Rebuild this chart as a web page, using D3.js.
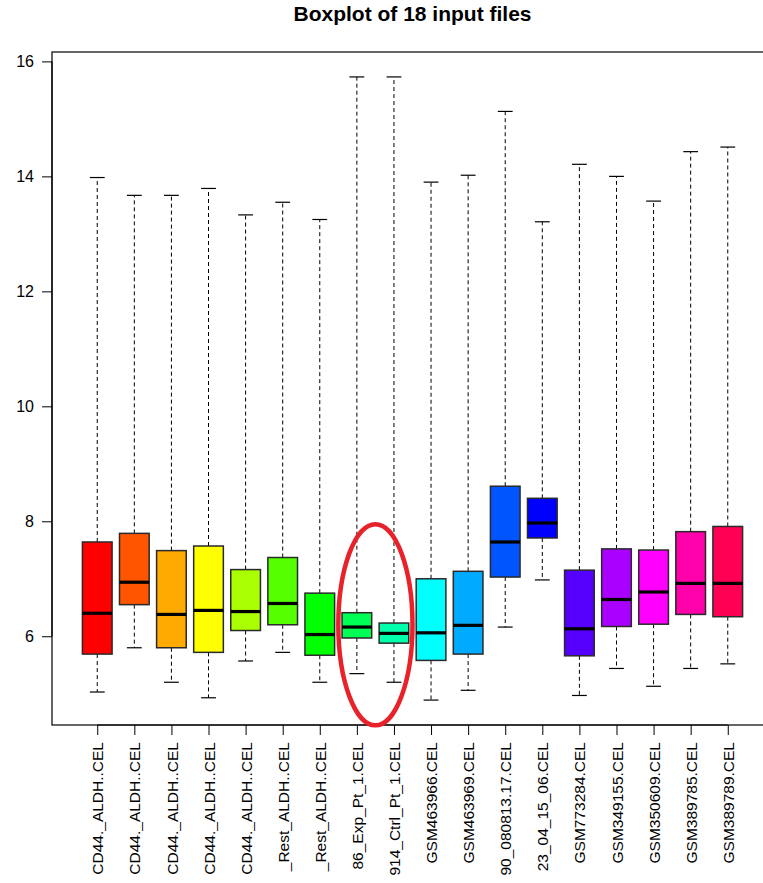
<!DOCTYPE html>
<html>
<head>
<meta charset="utf-8">
<script src="https://cdn.jsdelivr.net/npm/d3@7"></script>
<style>
  html, body { margin: 0; padding: 0; background: #fff; }
  svg { display: block; font-family: "Liberation Sans", Arial, Helvetica, sans-serif; }
</style>
</head>
<body>
<svg id="chart" width="763" height="883"></svg>
<script>
// Sample (array file) names, one per box, as printed under the axis
const samples = [
  "CD44._ALDH..CEL", "CD44._ALDH..CEL", "CD44._ALDH..CEL",
  "CD44._ALDH..CEL", "CD44._ALDH..CEL", "_Rest_ALDH..CEL",
  "_Rest_ALDH..CEL", "86_Exp_Pt_1.CEL", "914_Ctrl_Pt_1.CEL",
  "GSM463966.CEL", "GSM463969.CEL", "90_080813.17.CEL",
  "23_04_15_06.CEL", "GSM773284.CEL", "GSM349155.CEL",
  "GSM350609.CEL", "GSM389785.CEL", "GSM389789.CEL"
];

// Five-number summaries (log2 intensity)
const whiskerLow  = [5.03, 5.80, 5.20, 4.93, 5.57, 5.72, 5.20, 5.35, 5.20, 4.89, 5.06, 6.16, 6.98, 4.97, 5.44, 5.13, 5.44, 5.52];
const lowerQuart  = [5.69, 6.55, 5.80, 5.72, 6.10, 6.20, 5.67, 5.97, 5.88, 5.58, 5.69, 7.03, 7.71, 5.66, 6.17, 6.21, 6.38, 6.34];
const medians     = [6.40, 6.94, 6.38, 6.45, 6.43, 6.57, 6.03, 6.16, 6.05, 6.06, 6.19, 7.64, 7.97, 6.13, 6.64, 6.77, 6.92, 6.92];
const upperQuart  = [7.64, 7.79, 7.49, 7.57, 7.16, 7.37, 6.75, 6.41, 6.23, 7.00, 7.13, 8.61, 8.40, 7.15, 7.52, 7.50, 7.82, 7.91];
const whiskerHigh = [13.98, 13.67, 13.67, 13.79, 13.33, 13.55, 13.25, 15.73, 15.73, 13.90, 14.02, 15.13, 13.21, 14.21, 14.00, 13.57, 14.43, 14.51];

const yTicks = [6, 8, 10, 12, 14, 16];
const title = "Boxplot of 18 input files";

// Highlight ellipse around samples 8 and 9 (position in data units)
const highlight = { centerIndex: 8.5, centerValue: 6.2, halfIndex: 1.0, halfValue: 1.75 };

const svg = d3.select("#chart");
const n = samples.length;

// Plot region
const plotLeft = 52, plotTop = 52, plotBottom = 725, plotRight = 773;

// x: positions 1..n with 4% padding around [0.5, n+0.5]
const xLo = 0.5, xHi = n + 0.5, xPad = (xHi - xLo) * 0.04;
const x = d3.scaleLinear().domain([xLo - xPad, xHi + xPad]).range([plotLeft, plotRight]);

// y: data range with 4% padding
const yMin = d3.min(whiskerLow), yMax = d3.max(whiskerHigh), yPad = (yMax - yMin) * 0.04;
const y = d3.scaleLinear().domain([yMin - yPad, yMax + yPad]).range([plotBottom, plotTop]);

// rainbow palette
const colors = d3.range(n).map(i => d3.hsl(i * 360 / n, 1, 0.5).formatHex());

const boxHalf = (x(1.4) - x(1));     // box width 0.8
const capHalf = boxHalf / 2;          // staple width 0.5 of box

// Title
svg.append("text")
  .attr("x", (plotLeft + plotRight) / 2)
  .attr("y", 21)
  .attr("text-anchor", "middle")
  .attr("font-weight", "bold")
  .attr("font-size", 21)
  .text(title);

const data = samples.map((s, i) => ({
  name: s, idx: i + 1, lo: whiskerLow[i], q1: lowerQuart[i], med: medians[i],
  q3: upperQuart[i], hi: whiskerHigh[i], color: colors[i]
}));

const g = svg.append("g");
const boxes = g.selectAll("g.box").data(data).join("g").attr("class", "box");

// Whiskers (dashed)
boxes.append("line")
  .attr("x1", d => x(d.idx)).attr("x2", d => x(d.idx))
  .attr("y1", d => y(d.q3)).attr("y2", d => y(d.hi))
  .attr("stroke", "#000").attr("stroke-width", 1).attr("stroke-dasharray", "4,3");
boxes.append("line")
  .attr("x1", d => x(d.idx)).attr("x2", d => x(d.idx))
  .attr("y1", d => y(d.q1)).attr("y2", d => y(d.lo))
  .attr("stroke", "#000").attr("stroke-width", 1).attr("stroke-dasharray", "4,3");

// Staples
boxes.append("line")
  .attr("x1", d => x(d.idx) - capHalf).attr("x2", d => x(d.idx) + capHalf)
  .attr("y1", d => y(d.hi)).attr("y2", d => y(d.hi))
  .attr("stroke", "#000").attr("stroke-width", 1.2);
boxes.append("line")
  .attr("x1", d => x(d.idx) - capHalf).attr("x2", d => x(d.idx) + capHalf)
  .attr("y1", d => y(d.lo)).attr("y2", d => y(d.lo))
  .attr("stroke", "#000").attr("stroke-width", 1.2);

// Boxes
boxes.append("rect")
  .attr("x", d => x(d.idx) - boxHalf)
  .attr("width", 2 * boxHalf)
  .attr("y", d => y(d.q3))
  .attr("height", d => y(d.q1) - y(d.q3))
  .attr("fill", d => d.color)
  .attr("stroke", "#2a2a2a").attr("stroke-width", 1.5);

// Medians
boxes.append("line")
  .attr("x1", d => x(d.idx) - boxHalf).attr("x2", d => x(d.idx) + boxHalf)
  .attr("y1", d => y(d.med)).attr("y2", d => y(d.med))
  .attr("stroke", "#000").attr("stroke-width", 3.2);

// Frame
svg.append("rect")
  .attr("x", plotLeft).attr("y", plotTop)
  .attr("width", plotRight - plotLeft).attr("height", plotBottom - plotTop)
  .attr("fill", "none").attr("stroke", "#000").attr("stroke-width", 1.2);

// Y axis
const yAxis = d3.axisLeft(y).tickValues(yTicks).tickSize(10).tickPadding(8).tickFormat(d3.format("d"));
const ya = svg.append("g").attr("transform", `translate(${plotLeft},0)`).call(yAxis);
ya.select(".domain").attr("d", `M-0,${y(6)}V${y(16)}`).attr("stroke-width", 1.2);
ya.selectAll("text").attr("font-size", 16).attr("font-family", "'Liberation Sans', Arial, sans-serif").attr("fill", "#000");

// X axis with rotated sample names
const xAxis = d3.axisBottom(x).tickValues(d3.range(1, n + 1)).tickSize(10).tickFormat(i => samples[i - 1]);
const xa = svg.append("g").attr("transform", `translate(0,${plotBottom})`).call(xAxis);
xa.select(".domain").attr("d", `M${x(1)},0H${x(n)}`).attr("stroke-width", 1.2);
xa.selectAll("text")
  .attr("font-size", 15.5)
  .attr("font-family", "'Liberation Sans', Arial, sans-serif")
  .attr("fill", "#000")
  .attr("text-anchor", "end")
  .attr("transform", "rotate(-90)")
  .attr("x", -17)
  .attr("y", 0)
  .attr("dy", "0.36em");

// Highlight ellipse
svg.append("ellipse")
  .attr("cx", x(highlight.centerIndex))
  .attr("cy", y(highlight.centerValue))
  .attr("rx", x(highlight.centerIndex + highlight.halfIndex) - x(highlight.centerIndex))
  .attr("ry", y(highlight.centerValue - highlight.halfValue) - y(highlight.centerValue))
  .attr("fill", "none")
  .attr("stroke", "#e8222b")
  .attr("stroke-width", 4.5);
</script>
</body>
</html>
